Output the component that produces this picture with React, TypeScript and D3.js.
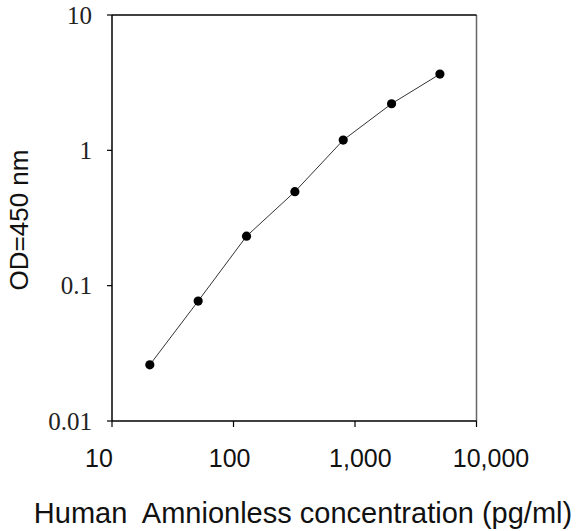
import React from "react";
import * as d3 from "d3";

const concentrations = [20.48, 51.2, 128, 320, 800, 2000, 5000];
const odValues = [0.026, 0.077, 0.232, 0.495, 1.19, 2.21, 3.66];
const xTicks = [10, 100, 1000, 10000];
const xTickLabels = ["10", "100", "1,000", "10,000"];
const yTicks = [0.01, 0.1, 1, 10];
const yTickLabels = ["0.01", "0.1", "1", "10"];

const width = 577;
const height = 531;
const left = 112;
const right = 476.5;
const top = 15;
const bottom = 421;

export default function App() {
  const x = d3.scaleLog().domain([10, 10000]).range([left, right]);
  const y = d3.scaleLog().domain([0.01, 10]).range([bottom, top]);
  // tick labels in the source sit a little wider apart than the ticks
  const xLabel = d3.scaleLog().domain([10, 10000]).range([99, 491]);

  const line = d3
    .line<number>()
    .x((d, i) => x(concentrations[i]))
    .y((d) => y(d));

  return (
    <svg
      width={width}
      height={height}
      style={{ position: "absolute", left: 0, top: 0, background: "#fff" }}
    >
      {/* frame */}
      <line x1={right} x2={right} y1={top} y2={bottom} stroke="#666" strokeWidth={1.5} />
      <line x1={left} x2={right} y1={top} y2={top} stroke="#000" strokeWidth={1.5} />
      <line x1={left} x2={left} y1={top} y2={bottom} stroke="#000" strokeWidth={1.5} />
      <line x1={left} x2={right} y1={bottom} y2={bottom} stroke="#000" strokeWidth={1.5} />

      {/* y ticks */}
      {yTicks.map((t, i) => (
        <g key={"y" + t}>
          <line x1={left - 5} x2={left} y1={y(t)} y2={y(t)} stroke="#000" strokeWidth={1.2} />
          <text
            x={left - 20}
            y={y(t)}
            dy="0.35em"
            textAnchor="end"
            fontFamily="'Liberation Serif', 'Times New Roman', serif"
            fontSize={25}
            fill="#222"
          >
            {yTickLabels[i]}
          </text>
        </g>
      ))}

      {/* x ticks */}
      {xTicks.map((t, i) => (
        <g key={"x" + t}>
          <line x1={x(t)} x2={x(t)} y1={bottom} y2={bottom + 6} stroke="#000" strokeWidth={1.2} />
          <text
            x={xLabel(t)}
            y={467}
            textAnchor="middle"
            fontFamily="'Liberation Sans', Arial, sans-serif"
            fontSize={25}
            fill="#111"
          >
            {xTickLabels[i]}
          </text>
        </g>
      ))}

      {/* data */}
      <path d={line(odValues) || ""} fill="none" stroke="#333" strokeWidth={1} />
      {odValues.map((v, i) => (
        <circle key={i} cx={x(concentrations[i])} cy={y(v)} r={4.6} fill="#000" />
      ))}

      {/* titles */}
      <text
        x={303}
        y={523}
        textAnchor="middle"
        fontFamily="'Liberation Sans', Arial, sans-serif"
        fontSize={29}
        fill="#111"
        style={{ whiteSpace: "pre" }}
      >
        {"Human  Amnionless concentration (pg/ml)"}
      </text>
      <text
        transform={`translate(28,220) rotate(-90)`}
        textAnchor="middle"
        fontFamily="'Liberation Sans', Arial, sans-serif"
        fontSize={26}
        fill="#111"
      >
        OD=450 nm
      </text>
    </svg>
  );
}
